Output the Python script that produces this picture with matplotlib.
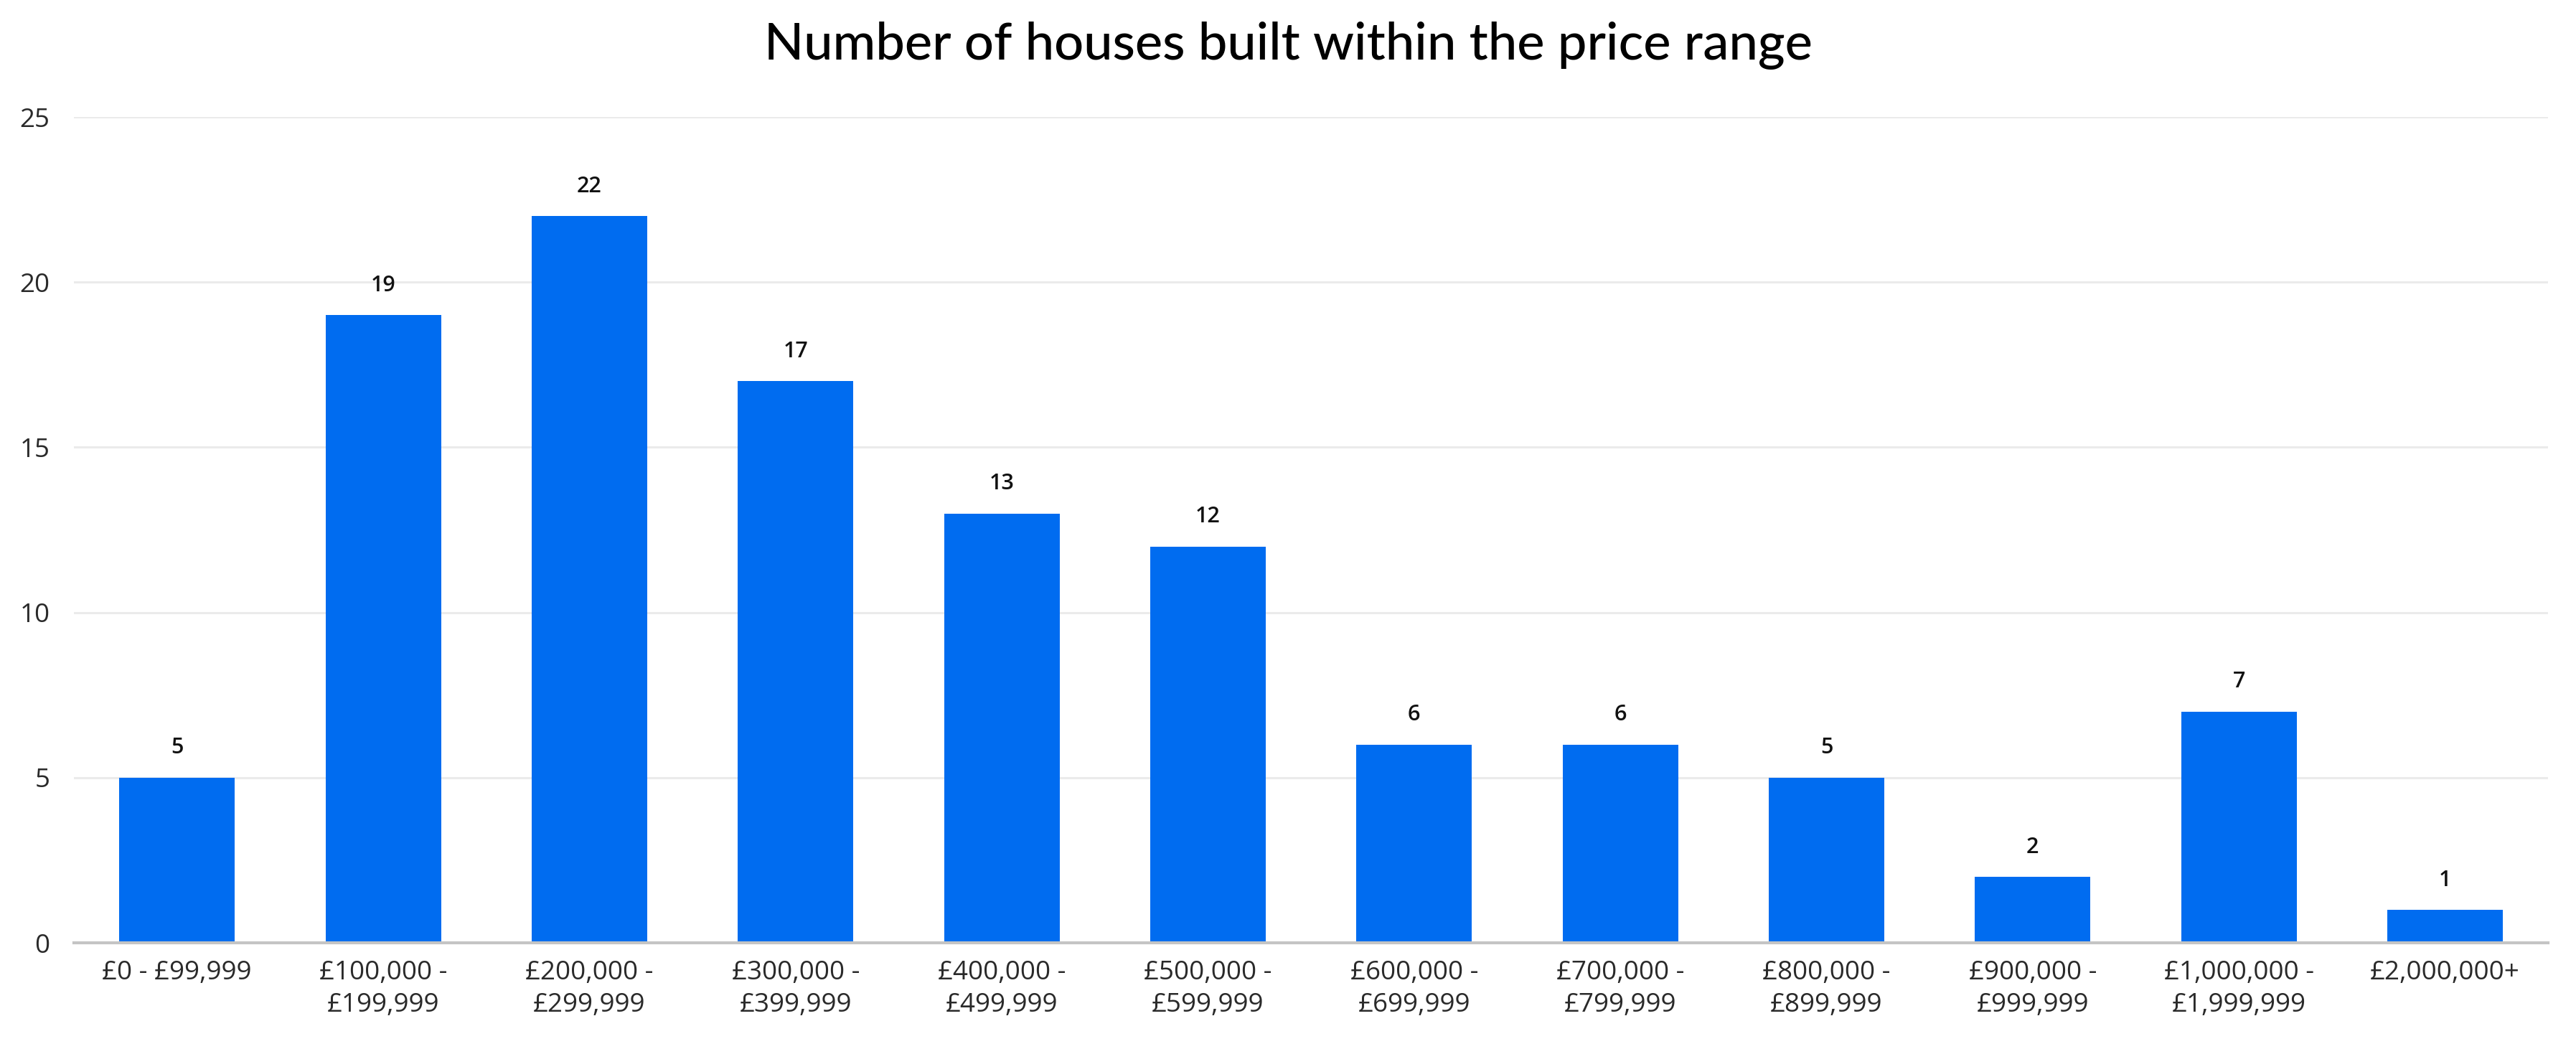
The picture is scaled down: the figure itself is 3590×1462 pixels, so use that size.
import matplotlib
matplotlib.use("Agg")
import matplotlib.pyplot as plt

categories = [
    "£0 - £99,999",
    "£100,000 -\n£199,999",
    "£200,000 -\n£299,999",
    "£300,000 -\n£399,999",
    "£400,000 -\n£499,999",
    "£500,000 -\n£599,999",
    "£600,000 -\n£699,999",
    "£700,000 -\n£799,999",
    "£800,000 -\n£899,999",
    "£900,000 -\n£999,999",
    "£1,000,000 -\n£1,999,999",
    "£2,000,000+",
]
houses = [5, 19, 22, 17, 13, 12, 6, 6, 5, 2, 7, 1]
y_ticks = [0, 5, 10, 15, 20, 25]

bar_color = "#006cf0"

fig = plt.figure(figsize=(35.91, 14.62), dpi=100)
ax = fig.add_axes([0.0287, 0.1012, 0.9602, 0.7873])

x = list(range(len(categories)))
bars = ax.bar(x, houses, width=0.56, color=bar_color, zorder=3)

for rect, val in zip(bars, houses):
    ax.annotate(
        str(val),
        (rect.get_x() + rect.get_width() / 2, rect.get_height()),
        xytext=(0, 19),
        textcoords="offset points",
        ha="center",
        va="bottom",
        fontsize=22,
        fontfamily="Open Sans",
        fontweight="semibold",
        color="#111111",
    )

ax.set_xlim(-0.5, len(categories) - 0.5)
ax.set_ylim(0, 25)
ax.set_yticks(y_ticks)
ax.set_xticks(x)
ax.set_xticklabels(categories, fontsize=26.5, fontfamily="Open Sans",
                   color="#2a2a2a", linespacing=1.35)
ax.set_yticklabels([str(t) for t in y_ticks], fontsize=26.5,
                   fontfamily="Open Sans", color="#2a2a2a")
ax.tick_params(axis="both", length=0)
ax.tick_params(axis="x", pad=17)
ax.tick_params(axis="y", pad=24)

for t in y_ticks[1:]:
    ax.axhline(t, color="#ebebeb", linewidth=2.2, zorder=1)

for side in ["top", "right", "left"]:
    ax.spines[side].set_visible(False)
ax.spines["bottom"].set_color("#c4c4c4")
ax.spines["bottom"].set_linewidth(3)
ax.spines["bottom"].set_zorder(4)

fig.text(0.5, 0.943, "Number of houses built within the price range",
         ha="center", va="baseline", fontsize=52, fontfamily="Lato",
         fontweight="medium", color="black")

fig.savefig("out.png", dpi=100, facecolor="white")
